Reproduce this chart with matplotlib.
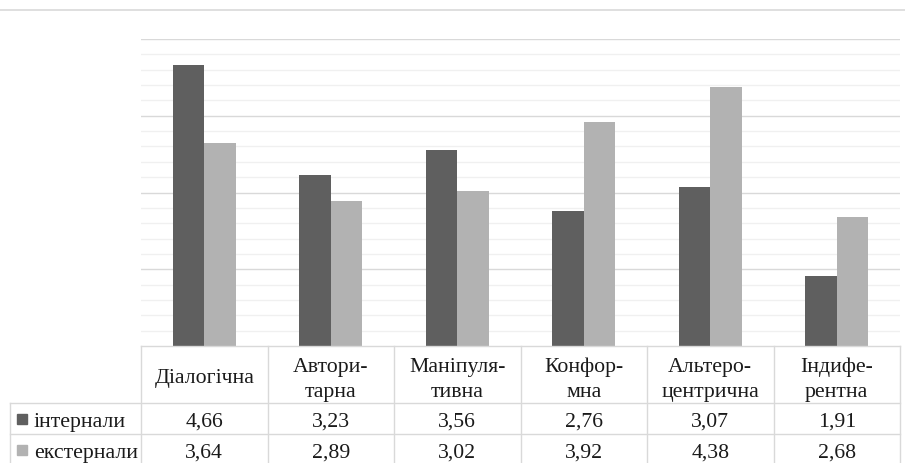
import numpy as np
import matplotlib
matplotlib.use("Agg")
from matplotlib import pyplot as plt
from matplotlib.lines import Line2D
from matplotlib.patches import Rectangle

# дані
categories = ["Діалогічна", "Автори-\nтарна", "Маніпуля-\nтивна",
              "Конфор-\nмна", "Альтеро-\nцентрична", "Індифе-\nрентна"]
internal = [4.66, 3.23, 3.56, 2.76, 3.07, 1.91]
external = [3.64, 2.89, 3.02, 3.92, 4.38, 2.68]
series_names = ["інтернали", "екстернали"]

dark = "#5f5f5f"
light = "#b2b2b2"
grid_major = "#d9d9d9"
grid_minor = "#f0f0f0"

plt.rcParams['font.family'] = 'serif'
plt.rcParams['font.serif'] = ['Liberation Serif', 'DejaVu Serif']

W, H = 905, 464
fig = plt.figure(figsize=(W / 100, H / 100), dpi=100)

# область з барами (в пікселях картинки)
x0, x1 = 141, 900
y_top, y_base = 40, 347
ax = fig.add_axes([x0 / W, (H - y_base) / H, (x1 - x0) / W, (y_base - y_top) / H])

x = np.arange(len(categories))
bw = 0.25
ax.bar(x - bw / 2, internal, bw, bottom=0, color=dark, zorder=3)
ax.bar(x + bw / 2, external, bw, bottom=0, color=light, zorder=3)
ax.set_ylim(1, 5)
ax.set_xlim(-0.5, len(categories) - 0.5)

for v in np.arange(1.2, 5.0, 0.2):
    if abs(v - round(v)) > 1e-6:
        ax.axhline(v, color=grid_minor, lw=1, zorder=1)
for v in [2, 3, 4, 5]:
    ax.axhline(v, color=grid_major, lw=1, zorder=2)

for s in ax.spines.values():
    s.set_visible(False)
ax.set_xticks([])
ax.set_yticks([])

# таблиця під графіком
ov = fig.add_axes([0, 0, 1, 1])
ov.set_xlim(0, W)
ov.set_ylim(H, 0)
ov.axis("off")
ov.patch.set_alpha(0)

line_c = "#d9d9d9"
ov.add_line(Line2D([0, W], [11, 11], color=line_c, lw=1.2))

row_y = [347, 404, 435, 466]
colw = (x1 - x0) / len(categories)
# горизонтальні лінії
ov.add_line(Line2D([x0, x1], [row_y[0], row_y[0]], color=line_c, lw=1))
for yy in row_y[1:3]:
    ov.add_line(Line2D([10, x1], [yy, yy], color=line_c, lw=1))
# вертикальні лінії
for i in range(len(categories) + 1):
    xx = x0 + i * colw
    ov.add_line(Line2D([xx, xx], [row_y[0], H], color=line_c, lw=1))
ov.add_line(Line2D([10, 10], [row_y[1], H], color=line_c, lw=1))

fs = 15.7
txt_c = "#1a1a1a"
for i, c in enumerate(categories):
    cx = x0 + (i + 0.5) * colw
    parts = c.split("\n")
    bases = [383] if len(parts) == 1 else [372, 397]
    for p, b in zip(parts, bases):
        ov.text(cx, b, p, ha="center", va="baseline", fontsize=fs, color=txt_c)
    ov.text(cx, 427, f"{internal[i]:.2f}".replace(".", ","),
            ha="center", va="baseline", fontsize=fs, color=txt_c)
    ov.text(cx, 458, f"{external[i]:.2f}".replace(".", ","),
            ha="center", va="baseline", fontsize=fs, color=txt_c)

for j, (name, col) in enumerate(zip(series_names, [dark, light])):
    b = [427, 458][j]
    ov.add_patch(Rectangle((17, b - 12), 10, 10, color=col))
    ov.text(34, b, name, ha="left", va="baseline", fontsize=fs, color=txt_c)

fig.savefig("out.png", dpi=100)
